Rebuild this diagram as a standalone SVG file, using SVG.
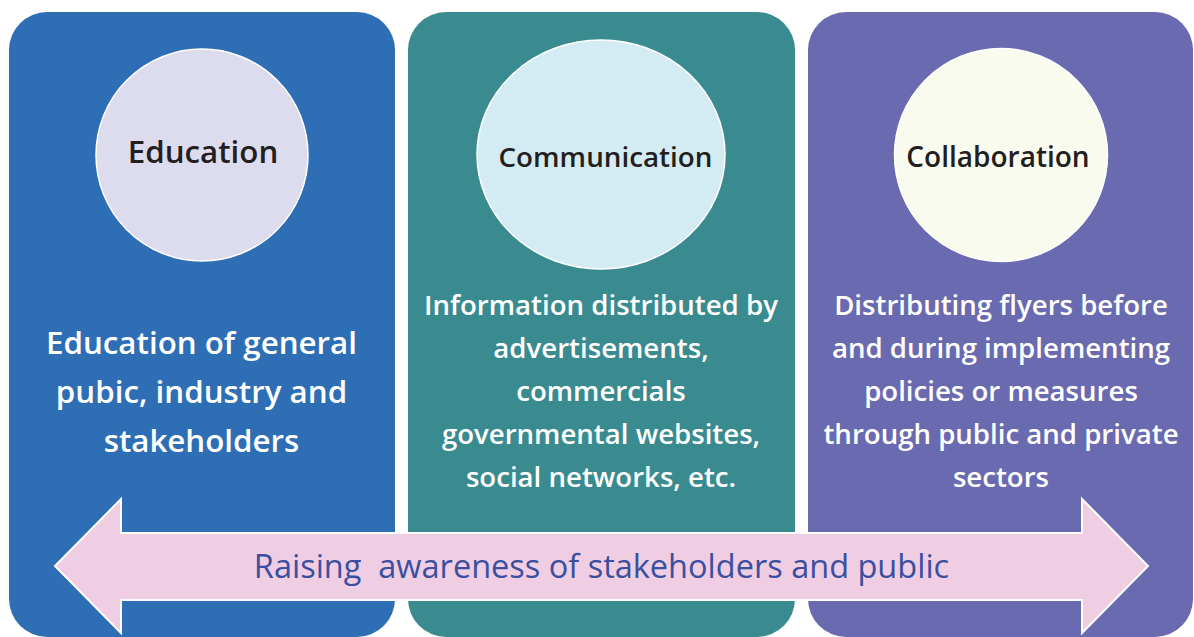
<svg xmlns="http://www.w3.org/2000/svg" width="1194" height="637" viewBox="0 0 1194 637">
<style>
.panel{stroke:none}
.circ{stroke:#ffffff;stroke-width:1.5}
.title{font-family:"Open Sans","Noto Sans","DejaVu Sans",sans-serif;fill:#231f20;text-anchor:middle;font-weight:600}
.body{font-family:"Open Sans","Noto Sans","DejaVu Sans",sans-serif;fill:#ffffff;text-anchor:middle;font-size:27.6px;font-weight:600}
.big{font-size:31.3px}
.arrowtxt{font-family:"Open Sans","Noto Sans","DejaVu Sans",sans-serif;fill:#3a4f9f;text-anchor:middle;font-size:32.5px}
</style>
<rect width="1194" height="637" fill="#ffffff"/>
<g id="education">
<rect class="panel" x="9" y="12" width="386" height="625" rx="38" fill="#2e6eb5"/>
<circle class="circ" cx="202" cy="155" r="106" fill="#dddbee"/>
<text class="title" x="203" y="163" font-size="31.3">Education</text>
<text class="body big" x="201.5" y="354">Education of general</text>
<text class="body big" x="201.5" y="403">pubic, industry and</text>
<text class="body big" x="201.5" y="452">stakeholders</text>
</g>
<g id="communication">
<rect class="panel" x="408" y="12" width="387" height="625" rx="38" fill="#3a8b8f"/>
<ellipse class="circ" cx="601" cy="154.5" rx="124" ry="114.5" fill="#d3ecf3"/>
<text class="title" x="605.5" y="167" font-size="27.8">Communication</text>
<text class="body" x="601" y="315">Information distributed by</text>
<text class="body" x="601" y="358">advertisements,</text>
<text class="body" x="601" y="401">commercials</text>
<text class="body" x="601" y="444">governmental websites,</text>
<text class="body" x="601" y="487">social networks, etc.</text>
</g>
<g id="collaboration">
<rect class="panel" x="808" y="12" width="385" height="625" rx="38" fill="#6a6ab0"/>
<circle class="circ" cx="1001" cy="155" r="106.5" fill="#fafbef"/>
<text class="title" x="998" y="166.5" font-size="28">Collaboration</text>
<text class="body" x="1001" y="315">Distributing flyers before</text>
<text class="body" x="1001" y="358">and during implementing</text>
<text class="body" x="1001" y="401">policies or measures</text>
<text class="body" x="1001" y="444">through public and private</text>
<text class="body" x="1001" y="487">sectors</text>
</g>
<g id="connectors">
<polygon points="55,566 121,499 121,533 1082,533 1082,499 1148,566 1082,633 1082,600 121,600 121,633" fill="#efcde2" stroke="#ffffff" stroke-width="2"/>
<text class="arrowtxt" x="601.5" y="578" xml:space="preserve">Raising  awareness of stakeholders and public</text>
</g>
</svg>
